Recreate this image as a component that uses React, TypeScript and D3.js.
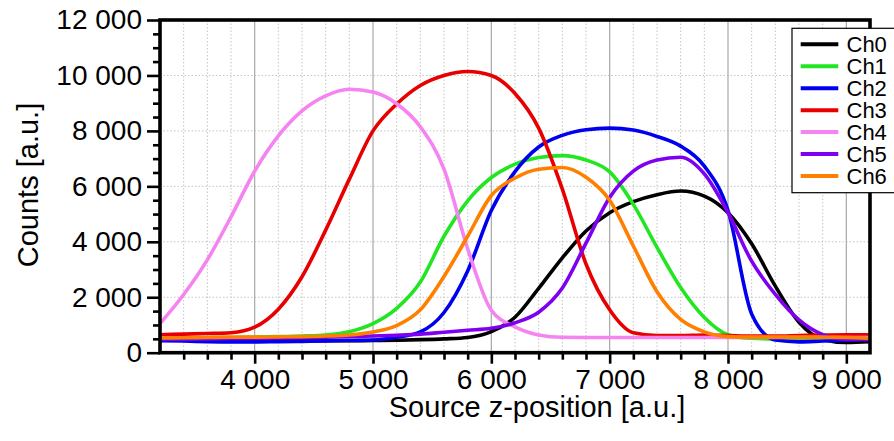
// counts vs source z-position, one curve per channel
import * as d3 from "d3";
import { useEffect, useRef } from "react";

// source z-position [a.u.]
const positions = [
  3200, 3400, 3600, 3800, 4000, 4200, 4400, 4600, 4800, 5000, 5200, 5400, 5600,
  5800, 6000, 6200, 6400, 6600, 6800, 7000, 7200, 7400, 7600, 7800, 8000, 8200,
  8400, 8600, 8800, 9000, 9200,
];

// counts [a.u.] per channel
const ch0 = [
  460, 450, 440, 440, 440, 440, 440, 430, 430, 440, 450, 470, 500, 550, 760,
  1280, 2320, 3420, 4390, 5050, 5450, 5700, 5830, 5650, 5050, 3930, 2400, 1100,
  480, 370, 400,
];
const ch1 = [
  520, 520, 530, 540, 560, 580, 600, 640, 760, 1050, 1600, 2550, 4200, 5480,
  6320, 6800, 7040, 7110, 6950, 6520, 5350, 3800, 2350, 1270, 650, 520, 500,
  500, 520, 530, 540,
];
const ch2 = [
  430, 420, 400, 390, 390, 400, 410, 420, 440, 460, 560, 750, 1450, 2950, 5130,
  6530, 7420, 7840, 8040, 8100, 8030, 7800, 7450, 6730, 5130, 1400, 455, 390,
  420, 450, 480,
];
const ch3 = [
  650, 670, 690, 720, 920, 1570, 2740, 4420, 6260, 8000, 8970, 9640, 10000,
  10140, 10000, 9350, 8100, 5900, 3200, 1550, 720, 620, 620, 640, 620, 600, 600,
  620, 640, 650, 650,
];
const ch4 = [
  1050, 2100, 3350, 4900, 6550, 7820, 8720, 9260, 9500, 9400, 8980, 8150, 6620,
  3750, 1530, 930, 640, 555, 550, 550, 550, 550, 550, 550, 550, 550, 550, 550,
  550, 550, 550,
];
const ch5 = [
  480, 490, 500, 510, 520, 530, 540, 560, 580, 600, 630, 670, 740, 810, 880,
  1080, 1460, 2330, 3950, 5600, 6550, 6950, 7050, 6450, 5050, 3300, 2100, 1180,
  650, 480, 480,
];
const ch6 = [
  530, 540, 550, 560, 560, 570, 580, 600, 640, 750, 980, 1550, 2750, 4200, 5670,
  6300, 6620, 6680, 6330, 5500, 3850, 2200, 1200, 750, 580, 560, 560, 560, 560,
  550, 520,
];

const channelNames = ["Ch0", "Ch1", "Ch2", "Ch3", "Ch4", "Ch5", "Ch6"];
const channelColors = [
  "#000000",
  "#22e622",
  "#0000ee",
  "#e80000",
  "#f584f0",
  "#7f00f0",
  "#ff7f00",
];

const xTicks = [4000, 5000, 6000, 7000, 8000, 9000];
const yTicks = [0, 2000, 4000, 6000, 8000, 10000, 12000];

const fontFamily = "'Liberation Sans', Arial, Helvetica, sans-serif";

export default function App() {
  const svgRef = useRef<SVGSVGElement>(null);

  useEffect(() => {
    document.body.style.margin = "0";
    const series = [ch0, ch1, ch2, ch3, ch4, ch5, ch6];

    const svg = d3.select(svgRef.current);
    svg.selectAll("*").remove();

    const left = 160;
    const right = 870;
    const top = 20;
    const bottom = 352.7;

    const x = d3.scaleLinear().domain([3200, 9200]).range([left, right]);
    const y = d3.scaleLinear().domain([0, 12000]).range([bottom, top]);

    const fmt = d3.formatLocale({
      decimal: ".",
      thousands: " ",
      grouping: [3],
      currency: ["", ""],
    }).format(",");

    // grid
    const grid = svg.append("g");
    const minorX = d3.range(3400, 9200, 200).filter((v) => v % 1000 !== 0);
    grid
      .selectAll("line.vminor")
      .data(minorX)
      .enter()
      .append("line")
      .attr("x1", (d) => x(d))
      .attr("x2", (d) => x(d))
      .attr("y1", top)
      .attr("y2", bottom)
      .attr("stroke", "#c4c4c4")
      .attr("stroke-width", 1)
      .attr("stroke-dasharray", "1.5,2");
    grid
      .selectAll("line.hminor")
      .data(yTicks.filter((d) => d > 0 && d < 12000))
      .enter()
      .append("line")
      .attr("x1", left)
      .attr("x2", right)
      .attr("y1", (d) => y(d))
      .attr("y2", (d) => y(d))
      .attr("stroke", "#c4c4c4")
      .attr("stroke-width", 1)
      .attr("stroke-dasharray", "1.5,2");
    grid
      .selectAll("line.vmajor")
      .data(xTicks)
      .enter()
      .append("line")
      .attr("x1", (d) => x(d))
      .attr("x2", (d) => x(d))
      .attr("y1", top)
      .attr("y2", bottom)
      .attr("stroke", "#a8a8a8")
      .attr("stroke-width", 1.2);

    // curves, clipped to the plot area
    svg
      .append("clipPath")
      .attr("id", "plot-clip")
      .append("rect")
      .attr("x", left)
      .attr("y", top)
      .attr("width", right - left)
      .attr("height", bottom - top);

    const line = d3
      .line<number>()
      .x((d, i) => x(positions[i]))
      .y((d) => y(d))
      .curve(d3.curveMonotoneX);

    svg
      .append("g")
      .attr("clip-path", "url(#plot-clip)")
      .selectAll("path")
      .data(series)
      .enter()
      .append("path")
      .attr("d", (d) => line(d))
      .attr("fill", "none")
      .attr("stroke", (d, i) => channelColors[i])
      .attr("stroke-width", 3.6)
      .attr("stroke-linejoin", "round");

    // x axis: minor ticks then labelled major ticks
    svg
      .append("g")
      .attr("transform", `translate(0,${bottom})`)
      .call(d3.axisBottom(x).tickValues(minorX).tickSize(7).tickFormat(() => ""));
    svg
      .append("g")
      .attr("transform", `translate(0,${bottom})`)
      .call(d3.axisBottom(x).tickValues(xTicks).tickSize(11).tickPadding(5).tickFormat((d) => fmt(d as number)));

    // y axis
    const minorY = d3.range(500, 12000, 500).filter((v) => v % 2000 !== 0);
    svg
      .append("g")
      .attr("transform", `translate(${left},0)`)
      .call(d3.axisLeft(y).tickValues(minorY).tickSize(7).tickFormat(() => ""));
    svg
      .append("g")
      .attr("transform", `translate(${left},0)`)
      .call(d3.axisLeft(y).tickValues(yTicks).tickSize(13).tickPadding(5).tickFormat((d) => fmt(d as number)));

    svg.selectAll(".domain").remove();
    svg.selectAll(".tick line").attr("stroke", "#000").attr("stroke-width", 2.6);
    svg
      .selectAll(".tick text")
      .attr("fill", "#000")
      .style("font-family", fontFamily)
      .style("font-size", "28px");

    // frame
    svg
      .append("rect")
      .attr("x", left)
      .attr("y", top)
      .attr("width", right - left)
      .attr("height", bottom - top)
      .attr("fill", "none")
      .attr("stroke", "#000")
      .attr("stroke-width", 3.6);

    // axis titles
    svg
      .append("text")
      .attr("x", 537)
      .attr("y", 417)
      .attr("text-anchor", "middle")
      .style("font-family", fontFamily)
      .style("font-size", "29px")
      .text("Source z-position [a.u.]");
    svg
      .append("text")
      .attr("transform", "translate(37.5,185) rotate(-90)")
      .attr("text-anchor", "middle")
      .style("font-family", fontFamily)
      .style("font-size", "29px")
      .text("Counts [a.u.]");

    // legend
    const legend = svg.append("g");
    legend
      .append("rect")
      .attr("x", 792)
      .attr("y", 28.3)
      .attr("width", 120)
      .attr("height", 164.4)
      .attr("fill", "#fff")
      .attr("stroke", "#000")
      .attr("stroke-width", 1.2);
    const rows = legend
      .selectAll("g.row")
      .data(channelNames)
      .enter()
      .append("g")
      .attr("transform", (d, i) => `translate(0,${44.3 + i * 21.95})`);
    rows
      .append("line")
      .attr("x1", 800.7)
      .attr("x2", 838.3)
      .attr("stroke", (d, i) => channelColors[i])
      .attr("stroke-width", 4);
    rows
      .append("text")
      .attr("x", 846.5)
      .attr("y", 8)
      .style("font-family", fontFamily)
      .style("font-size", "22px")
      .text((d) => d);
  }, []);

  return (
    <svg
      ref={svgRef}
      width={894}
      height={441}
      style={{ display: "block", background: "#fff" }}
    />
  );
}
